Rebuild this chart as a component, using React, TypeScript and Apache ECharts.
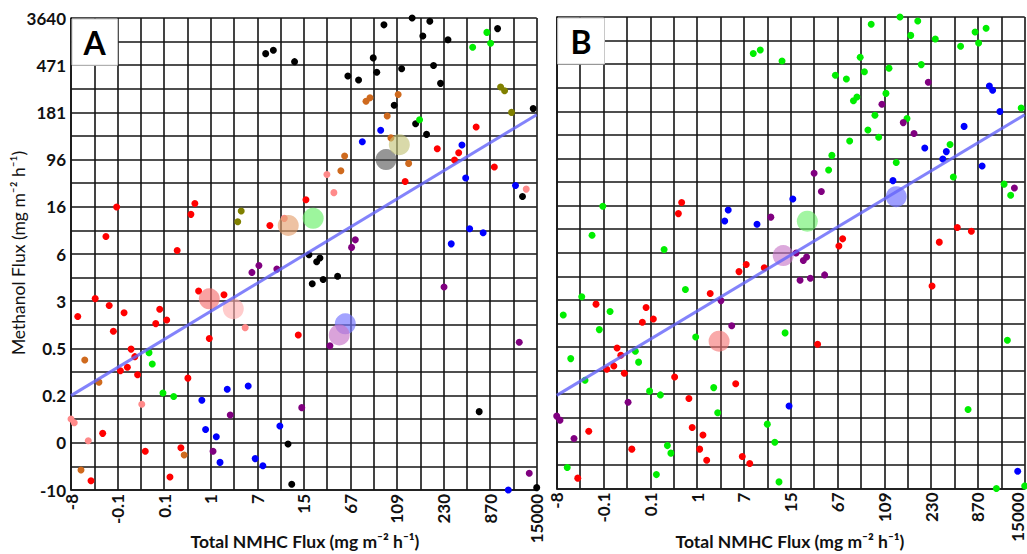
import React, { useEffect, useRef } from 'react';
import * as echarts from 'echarts';

// Tick labels (non-linear, evenly spaced every 2 grid cells)
const xTickLabels = ['-8', '-0.1', '0.1', '1', '7', '15', '67', '109', '230', '870', '15000'];
const yTickLabels = ['-10', '0', '0.2', '0.5', '3', '6', '16', '96', '181', '471', '3640'];

// Positions are in grid-cell units (0..20) on each axis
// ---------- Panel A ----------
const aBlack = [[8.36,18.49],[8.69,18.63],[9.60,18.15],[13.44,19.71],[14.65,20.0],[15.41,19.86],[15.11,19.24],[16.19,19.08],[18.32,19.55],[12.98,18.31],[13.13,17.70],[14.20,17.85],[15.57,17.99],[11.89,17.54],[12.35,17.37],[15.87,17.23],[13.88,16.30],[19.85,16.16],[14.80,15.52],[15.27,15.07],[19.39,12.44],[10.22,9.97],[10.69,9.83],[10.55,9.67],[10.83,8.92],[11.45,9.06],[10.36,8.74],[17.53,3.32],[9.32,1.95],[9.48,0.24],[20.0,0.10]];
const aGreen = [[17.86,19.39],[17.25,18.76],[18.02,18.93],[14.97,15.69],[3.35,5.82],[3.49,5.34],[3.95,4.11],[4.41,3.96]];
const aOlive = [[7.31,11.82],[7.16,11.37],[18.45,17.08],[18.62,16.92],[18.92,16.0]];
const aOrange = [[12.84,16.62],[12.67,16.47],[14.05,16.76],[13.58,15.85],[13.74,14.92],[11.75,14.15],[14.50,13.84],[11.59,13.53],[0.59,5.51],[1.20,4.57],[4.86,1.48],[0.43,0.85]];
const aRed = [[1.96,11.99],[1.50,10.74],[5.32,12.14],[5.15,11.68],[4.56,10.15],[8.54,11.21],[17.40,15.38],[15.73,14.46],[16.65,14.29],[16.47,13.98],[18.18,13.69],[14.35,13.07],[10.09,12.30],[9.76,6.57],[5.48,8.43],[6.57,8.27],[1.04,8.11],[0.29,7.35],[1.64,7.82],[2.28,7.51],[3.81,7.66],[3.64,7.05],[4.11,7.20],[1.82,6.73],[5.94,6.42],[2.58,5.97],[2.74,5.65],[2.42,5.20],[2.12,5.05],[2.86,4.88],[5.02,4.74],[1.36,2.40],[4.72,1.79],[3.19,1.64],[0.86,0.39],[4.25,0.55]];
const aPink = [[10.99,13.37],[19.55,12.75],[11.29,12.60],[9.16,11.51],[7.48,6.88],[3.04,3.63],[0.0,3.01],[0.14,2.85],[0.74,2.09]];
const aBlue = [[13.30,15.24],[12.51,14.76],[16.79,14.62],[16.95,13.22],[19.09,12.90],[17.12,11.07],[17.70,10.90],[16.33,10.43],[6.71,4.27],[7.61,4.41],[5.62,3.80],[8.97,2.71],[5.78,2.56],[6.24,2.26],[6.40,1.17],[7.91,1.33],[8.24,1.03],[18.78,0.0]];
const aPurple = [[7.77,9.22],[8.07,9.51],[8.84,9.36],[12.21,10.60],[12.05,10.28],[16.02,8.60],[11.12,6.11],[19.25,6.26],[9.91,3.49],[6.84,3.18],[6.10,1.64],[19.68,0.71]];
// group means (large translucent circles)
const aMeanSalmon = [[5.94,8.10]];
const aMeanPink = [[6.97,7.68]];
const aMeanTan = [[9.33,11.21]];
const aMeanGreen = [[10.40,11.51]];
const aMeanGray = [[13.53,14.0]];
const aMeanKhaki = [[14.10,14.63]];
const aMeanBlue = [[11.78,7.04]];
const aMeanOrchid = [[11.52,6.57]];
const aTrend = [[0,4.0],[20,15.9]];

// ---------- Panel B ----------
const bGreen = [[8.40,18.45],[8.70,18.60],[9.63,18.13],[1.97,11.97],[1.51,10.74],[4.59,10.14],[13.44,19.69],[14.67,20.0],[15.43,19.83],[15.13,19.22],[16.18,19.07],[17.88,19.36],[18.35,19.52],[18.03,18.90],[17.26,18.76],[12.97,18.29],[15.58,17.98],[14.20,17.83],[13.15,17.68],[11.91,17.53],[12.38,17.37],[14.07,16.76],[12.83,16.61],[12.68,16.45],[19.85,16.14],[13.60,15.83],[14.97,15.69],[13.30,15.21],[13.76,14.90],[12.52,14.74],[16.81,14.59],[11.76,14.13],[14.51,13.83],[11.62,13.51],[16.95,13.21],[19.12,12.91],[19.40,12.44],[9.76,6.60],[19.26,6.29],[17.58,3.35],[18.79,0.0],[20.0,0.11],[9.50,0.28],[5.50,8.44],[1.07,8.13],[0.28,7.36],[2.28,7.51],[1.82,6.74],[5.94,6.43],[3.36,5.82],[0.60,5.51],[3.50,5.36],[1.21,4.59],[6.71,4.28],[3.97,4.13],[4.43,3.97],[6.88,3.21],[9.0,2.73],[9.32,1.96],[4.73,1.82],[4.88,1.50],[0.45,0.89],[4.26,0.59]];
const bRed = [[5.34,12.13],[5.20,11.66],[8.10,9.50],[7.79,9.20],[8.87,9.36],[17.12,11.07],[17.72,10.91],[16.35,10.45],[12.22,10.59],[12.06,10.29],[16.04,8.59],[11.15,6.12],[6.56,8.27],[1.68,7.82],[3.82,7.68],[3.66,7.05],[4.13,7.19],[2.58,5.96],[2.74,5.65],[2.14,5.06],[2.44,5.20],[2.89,4.89],[5.04,4.73],[7.65,4.44],[5.65,3.82],[5.79,2.59],[6.25,2.27],[1.37,2.43],[3.21,1.67],[6.11,1.67],[7.93,1.36],[8.25,1.06],[6.41,1.20],[0.90,0.44]];
const bBlue = [[7.33,11.81],[7.18,11.35],[8.56,11.21],[18.49,17.07],[18.63,16.89],[18.94,15.99],[17.41,15.36],[15.73,14.44],[16.65,14.29],[16.50,13.98],[18.18,13.68],[14.37,13.06],[10.09,12.28],[9.93,3.50],[19.70,0.73]];
const bPurple = [[9.15,11.51],[15.88,17.23],[13.90,16.30],[14.81,15.52],[15.27,15.06],[11.0,13.37],[19.56,12.75],[11.31,12.60],[10.23,9.99],[10.68,9.82],[10.54,9.67],[11.45,9.06],[10.84,8.92],[10.40,8.83],[7.02,7.97],[7.48,6.90],[3.05,3.66],[0.0,3.07],[0.14,2.90],[0.74,2.12]];
const bMeanSalmon = [[6.94,6.25]];
const bMeanOrchid = [[9.68,9.88]];
const bMeanGreen = [[10.71,11.34]];
const bMeanBlue = [[14.51,12.38]];
const bTrend = [[0,3.95],[20,15.85]];

const FONT = 'Lato, "Open Sans", "DejaVu Sans", sans-serif';
const gridLine = { color: '#151515', width: 1.6 };

function dots(data: number[][], color: string, gi: number) {
  return {
    type: 'scatter', xAxisIndex: gi, yAxisIndex: gi, data, symbolSize: 7,
    itemStyle: { color, opacity: 1 }, silent: true, z: 3,
  };
}
function mean(data: number[][], color: string, gi: number) {
  return {
    type: 'scatter', xAxisIndex: gi, yAxisIndex: gi, data, symbolSize: 21,
    itemStyle: { color }, silent: true, z: 4,
  };
}
function trend(data: number[][], gi: number) {
  return {
    type: 'line', xAxisIndex: gi, yAxisIndex: gi, data, symbol: 'none', silent: true, z: 5,
    lineStyle: { color: 'rgba(100,100,250,0.8)', width: 3 },
  };
}

const labelStyle = { fontSize: 17, fontWeight: 'bold', fontFamily: FONT, color: '#111' };

// hideLast: the last label of panel B sits on the page edge; it is drawn as a graphic text nudged inward
function xAxis(gi: number, hideLast: boolean) {
  return {
    gridIndex: gi, type: 'value', min: 0, max: 20, interval: 1,
    axisLine: { show: true, onZero: false, lineStyle: gridLine },
    axisTick: { show: false },
    splitLine: { show: true, lineStyle: gridLine },
    axisLabel: {
      rotate: 90, margin: 4, ...labelStyle,
      showMinLabel: true, showMaxLabel: true,
      formatter: (v: number) => {
        const i = Math.round(v);
        if (i % 2 !== 0) return '';
        if (hideLast && i === 20) return '';
        return xTickLabels[i / 2];
      },
    },
  };
}
function yAxis(gi: number, showLabels: boolean) {
  return {
    gridIndex: gi, type: 'value', min: 0, max: 20, interval: 1,
    axisLine: { show: true, onZero: false, lineStyle: gridLine },
    axisTick: { show: false },
    splitLine: { show: true, lineStyle: gridLine },
    axisLabel: {
      show: showLabels, margin: 5, ...labelStyle,
      showMinLabel: true, showMaxLabel: true,
      formatter: (v: number) => { const i = Math.round(v); return i % 2 === 0 ? yTickLabels[i / 2] : ''; },
    },
  };
}

export default function App() {
  const ref = useRef<HTMLDivElement>(null);
  useEffect(() => {
    const chart = echarts.init(ref.current!, null, { renderer: 'svg' });
    const titleX = 'Total NMHC Flux (mg m⁻² h⁻¹)';
    const option = {
      animation: false,
      backgroundColor: '#fff',
      grid: [
        { left: 71, top: 18, width: 465.7, height: 472 },
        { left: 556.7, top: 17, width: 468, height: 471.5 },
      ],
      xAxis: [xAxis(0, false), xAxis(1, true)],
      yAxis: [yAxis(0, true), yAxis(1, false)],
      series: [
        dots(aBlack, '#000000', 0),
        dots(aGreen, '#00ee00', 0),
        dots(aOlive, '#808000', 0),
        dots(aOrange, '#cf6a1e', 0),
        dots(aRed, '#ff0000', 0),
        dots(aPink, '#ff8a8a', 0),
        dots(aBlue, '#0000ff', 0),
        dots(aPurple, '#800080', 0),
        trend(aTrend, 0),
        mean(aMeanSalmon, 'rgba(245,110,110,0.8)', 0),
        mean(aMeanPink, 'rgba(255,175,175,0.8)', 0),
        mean(aMeanTan, 'rgba(228,160,110,0.8)', 0),
        mean(aMeanGreen, 'rgba(110,240,110,0.85)', 0),
        mean(aMeanGray, 'rgba(80,80,80,0.75)', 0),
        mean(aMeanKhaki, 'rgba(195,195,120,0.8)', 0),
        mean(aMeanBlue, 'rgba(120,120,255,0.85)', 0),
        mean(aMeanOrchid, 'rgba(200,120,200,0.85)', 0),
        dots(bGreen, '#00ee00', 1),
        dots(bRed, '#ff0000', 1),
        dots(bBlue, '#0000ff', 1),
        dots(bPurple, '#800080', 1),
        trend(bTrend, 1),
        mean(bMeanSalmon, 'rgba(245,120,120,0.8)', 1),
        mean(bMeanOrchid, 'rgba(200,120,200,0.8)', 1),
        mean(bMeanGreen, 'rgba(110,240,110,0.8)', 1),
        mean(bMeanBlue, 'rgba(120,120,255,0.9)', 1),
      ],
      graphic: [
        { type: 'rect', z: 100, shape: { x: 72, y: 19, width: 45.6, height: 46.2 }, style: { fill: '#fff', stroke: '#c8c8c8', lineWidth: 1 } },
        { type: 'text', z: 101, x: 94.5, y: 42, style: { text: 'A', fontSize: 32, fontWeight: 'bold', fontFamily: FONT, fill: '#000', align: 'center', verticalAlign: 'middle' } },
        { type: 'rect', z: 100, shape: { x: 557.7, y: 18, width: 46.8, height: 46.1 }, style: { fill: '#fff', stroke: '#c8c8c8', lineWidth: 1 } },
        { type: 'text', z: 101, x: 581, y: 41, style: { text: 'B', fontSize: 32, fontWeight: 'bold', fontFamily: FONT, fill: '#000', align: 'center', verticalAlign: 'middle' } },
        { type: 'text', z: 101, x: 1017.5, y: 492.5, rotation: Math.PI / 2, style: { text: xTickLabels[10], fontSize: 17, fontWeight: 'bold', fontFamily: FONT, fill: '#111', align: 'right', verticalAlign: 'middle' } },
        { type: 'text', z: 101, x: 18, y: 253, rotation: Math.PI / 2, style: { text: 'Methanol Flux (mg m⁻² h⁻¹)', fontSize: 17.5, fontFamily: FONT, fill: '#111', align: 'center', verticalAlign: 'middle' } },
        { type: 'text', z: 101, x: 305, y: 541, style: { text: titleX, fontSize: 17.5, fontWeight: 'bold', fontFamily: FONT, fill: '#111', align: 'center', verticalAlign: 'middle' } },
        { type: 'text', z: 101, x: 790, y: 541, style: { text: titleX, fontSize: 17.5, fontWeight: 'bold', fontFamily: FONT, fill: '#111', align: 'center', verticalAlign: 'middle' } },
      ],
    };
    chart.setOption(option as any);
    return () => chart.dispose();
  }, []);
  return <div ref={ref} style={{ position: 'fixed', left: 0, top: 0, width: 1027, height: 554 }} />;
}
